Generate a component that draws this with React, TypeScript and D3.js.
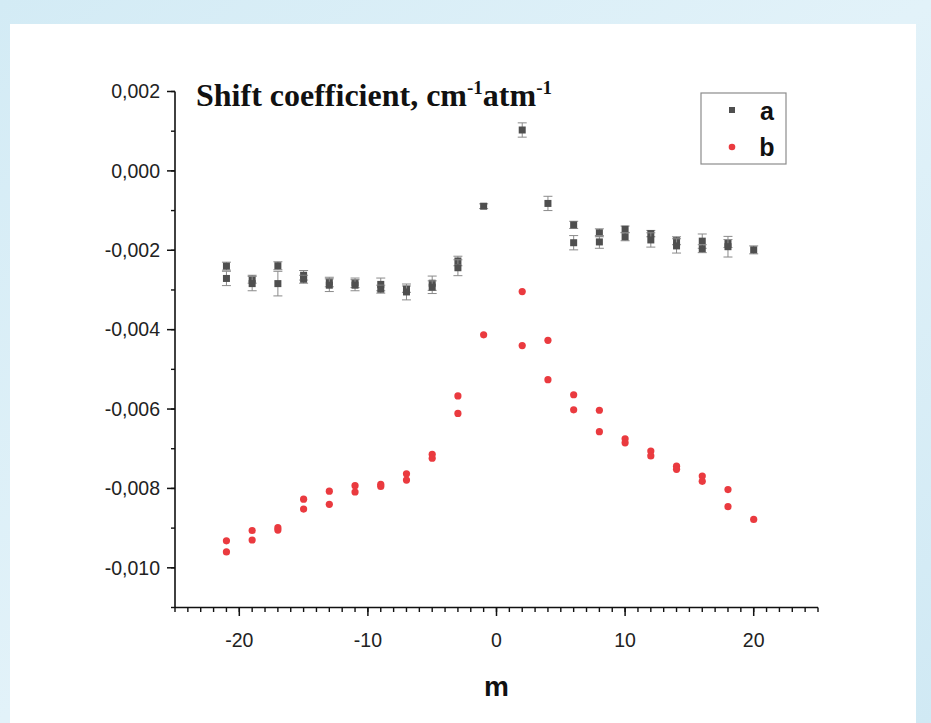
import React from "react";
import * as d3 from "d3";

// Series a: quantum number m, shift coefficient (units of 1e-3 cm^-1 atm^-1) and error half-width
const aM = [-21, -21, -19, -19, -17, -17, -15, -15, -13, -13, -11, -11, -9, -9, -7, -7, -5, -5, -3, -3, -1, 2, 4, 6, 6, 8, 8, 10, 10, 12, 12, 14, 14, 16, 16, 18, 18, 20];
const aVal = [-2.40, -2.71, -2.73, -2.84, -2.39, -2.84, -2.63, -2.73, -2.80, -2.88, -2.82, -2.88, -2.86, -2.98, -2.98, -3.05, -2.83, -2.93, -2.27, -2.44, -0.89, 1.03, -0.82, -1.36, -1.81, -1.56, -1.79, -1.47, -1.66, -1.58, -1.74, -1.76, -1.89, -1.77, -1.96, -1.83, -1.91, -1.99];
const aErr = [0.10, 0.18, 0.10, 0.18, 0.10, 0.31, 0.12, 0.10, 0.12, 0.16, 0.12, 0.14, 0.16, 0.10, 0.08, 0.20, 0.18, 0.16, 0.12, 0.20, 0.06, 0.18, 0.18, 0.09, 0.18, 0.10, 0.16, 0.08, 0.10, 0.08, 0.18, 0.10, 0.18, 0.18, 0.10, 0.10, 0.26, 0.10];

// Series b: m and shift coefficient (units of 1e-3)
const bM = [-21, -21, -19, -19, -17, -17, -15, -15, -13, -13, -11, -11, -9, -9, -7, -7, -5, -5, -3, -3, -1, 2, 2, 4, 4, 6, 6, 8, 8, 10, 10, 12, 12, 14, 14, 16, 16, 18, 18, 20];
const bVal = [-9.32, -9.60, -9.06, -9.30, -8.99, -9.05, -8.27, -8.52, -8.07, -8.40, -7.93, -8.09, -7.90, -7.95, -7.63, -7.79, -7.14, -7.24, -5.67, -6.11, -4.13, -3.04, -4.40, -4.27, -5.26, -5.64, -6.02, -6.03, -6.57, -6.75, -6.85, -7.06, -7.18, -7.44, -7.52, -7.69, -7.82, -8.03, -8.46, -8.78];

const xMajorTicks = [-20, -10, 0, 10, 20];
const yMajorTicks = [0.002, 0, -0.002, -0.004, -0.006, -0.008, -0.010];
const legendLabels = ["a", "b"];

const W = 931;
const H = 723;
const x = d3.scaleLinear().domain([-25, 25]).range([175, 818]);
const y = d3.scaleLinear().domain([-0.011, 0.002]).range([607.5, 91.5]);

const fmtY = (v: number) => {
  const s = d3.format(".3f")(Math.abs(v) < 1e-12 ? 0 : v).replace(".", ",");
  return s.replace("−", "-");
};

const GRAY = "#4f4f4f";
const ERR = "#8a8a8a";
const RED = "#ea3a3f";

export default function App() {
  const xMinor = d3.range(-25, 26, 1);
  const yMinor = d3.range(-11, 3, 1).map((k) => k / 1000);
  const a = aM.map((m, i) => ({ m, v: aVal[i] / 1000, e: aErr[i] / 1000 }));
  const b = bM.map((m, i) => ({ m, v: bVal[i] / 1000 }));
  const sq = 7;

  return (
    <svg width={W} height={H} style={{ position: "absolute", left: 0, top: 0 }} fontFamily="'Liberation Sans', Arial, sans-serif">
      <defs>
        <linearGradient id="bg" x1="0" y1="0" x2="1" y2="1">
          <stop offset="0" stopColor="#d3ebf5" />
          <stop offset="0.5" stopColor="#e2f2f9" />
          <stop offset="1" stopColor="#d0e9f4" />
        </linearGradient>
      </defs>
      <rect x={0} y={0} width={W} height={H} fill="url(#bg)" />
      <rect x={10} y={24} width={906} height={H - 24} fill="#ffffff" />

      {/* y axis */}
      <line x1={175} x2={175} y1={y(0.002)} y2={y(-0.011)} stroke="#111" strokeWidth={1.6} />
      {yMinor.map((t) => (
        <line key={"ym" + t} x1={175} x2={171} y1={y(t)} y2={y(t)} stroke="#111" strokeWidth={1.4} />
      ))}
      {yMajorTicks.map((t) => (
        <g key={"y" + t}>
          <line x1={175} x2={167} y1={y(t)} y2={y(t)} stroke="#111" strokeWidth={1.5} />
          <text x={160} y={y(t)} dy="0.35em" textAnchor="end" fontSize={19.5} fill="#222">
            {fmtY(t)}
          </text>
        </g>
      ))}

      {/* x axis */}
      <line x1={x(-25)} x2={x(25)} y1={607.5} y2={607.5} stroke="#111" strokeWidth={1.6} />
      {xMinor.map((t) => (
        <line key={"xm" + t} x1={x(t)} x2={x(t)} y1={607.5} y2={612} stroke="#111" strokeWidth={1.4} />
      ))}
      {xMajorTicks.map((t) => (
        <g key={"x" + t}>
          <line x1={x(t)} x2={x(t)} y1={607.5} y2={616} stroke="#111" strokeWidth={1.5} />
          <text x={x(t)} y={647} textAnchor="middle" fontSize={19.5} fill="#222">
            {t}
          </text>
        </g>
      ))}
      <text x={x(0)} y={696} textAnchor="middle" fontSize={28} fontWeight="bold" fill="#111">
        m
      </text>

      {/* title */}
      <text x={196} y={106} fontFamily="'Liberation Serif', 'Times New Roman', serif" fontWeight="bold" fontSize={32} fill="#111">
        Shift coefficient, cm
        <tspan dy={-12} fontSize={19}>-1</tspan>
        <tspan dy={12}>atm</tspan>
        <tspan dy={-12} fontSize={19}>-1</tspan>
      </text>

      {/* series a with error bars */}
      {a.map((d, i) => {
        const cx = x(d.m);
        const yt = y(d.v + d.e);
        const yb = y(d.v - d.e);
        return (
          <g key={"a" + i}>
            <line x1={cx} x2={cx} y1={yt} y2={yb} stroke={ERR} strokeWidth={1} />
            <line x1={cx - 4.5} x2={cx + 4.5} y1={yt} y2={yt} stroke={ERR} strokeWidth={1} />
            <line x1={cx - 4.5} x2={cx + 4.5} y1={yb} y2={yb} stroke={ERR} strokeWidth={1} />
            <rect x={cx - sq / 2} y={y(d.v) - sq / 2} width={sq} height={sq} fill={GRAY} />
          </g>
        );
      })}

      {/* series b */}
      {b.map((d, i) => (
        <circle key={"b" + i} cx={x(d.m)} cy={y(d.v)} r={3.6} fill={RED} />
      ))}

      {/* legend */}
      <rect x={701} y={93} width={85} height={71} fill="#fff" stroke="#8c8c8c" strokeWidth={1.2} />
      <rect x={732 - 3} y={110 - 3} width={6} height={6} fill={GRAY} />
      <circle cx={732} cy={147} r={3.3} fill={RED} />
      {legendLabels.map((l, i) => (
        <text key={l} x={767} y={i === 0 ? 111 : 147} dy="0.35em" textAnchor="middle" fontSize={25} fontWeight="bold" fill="#111">
          {l}
        </text>
      ))}
    </svg>
  );
}
